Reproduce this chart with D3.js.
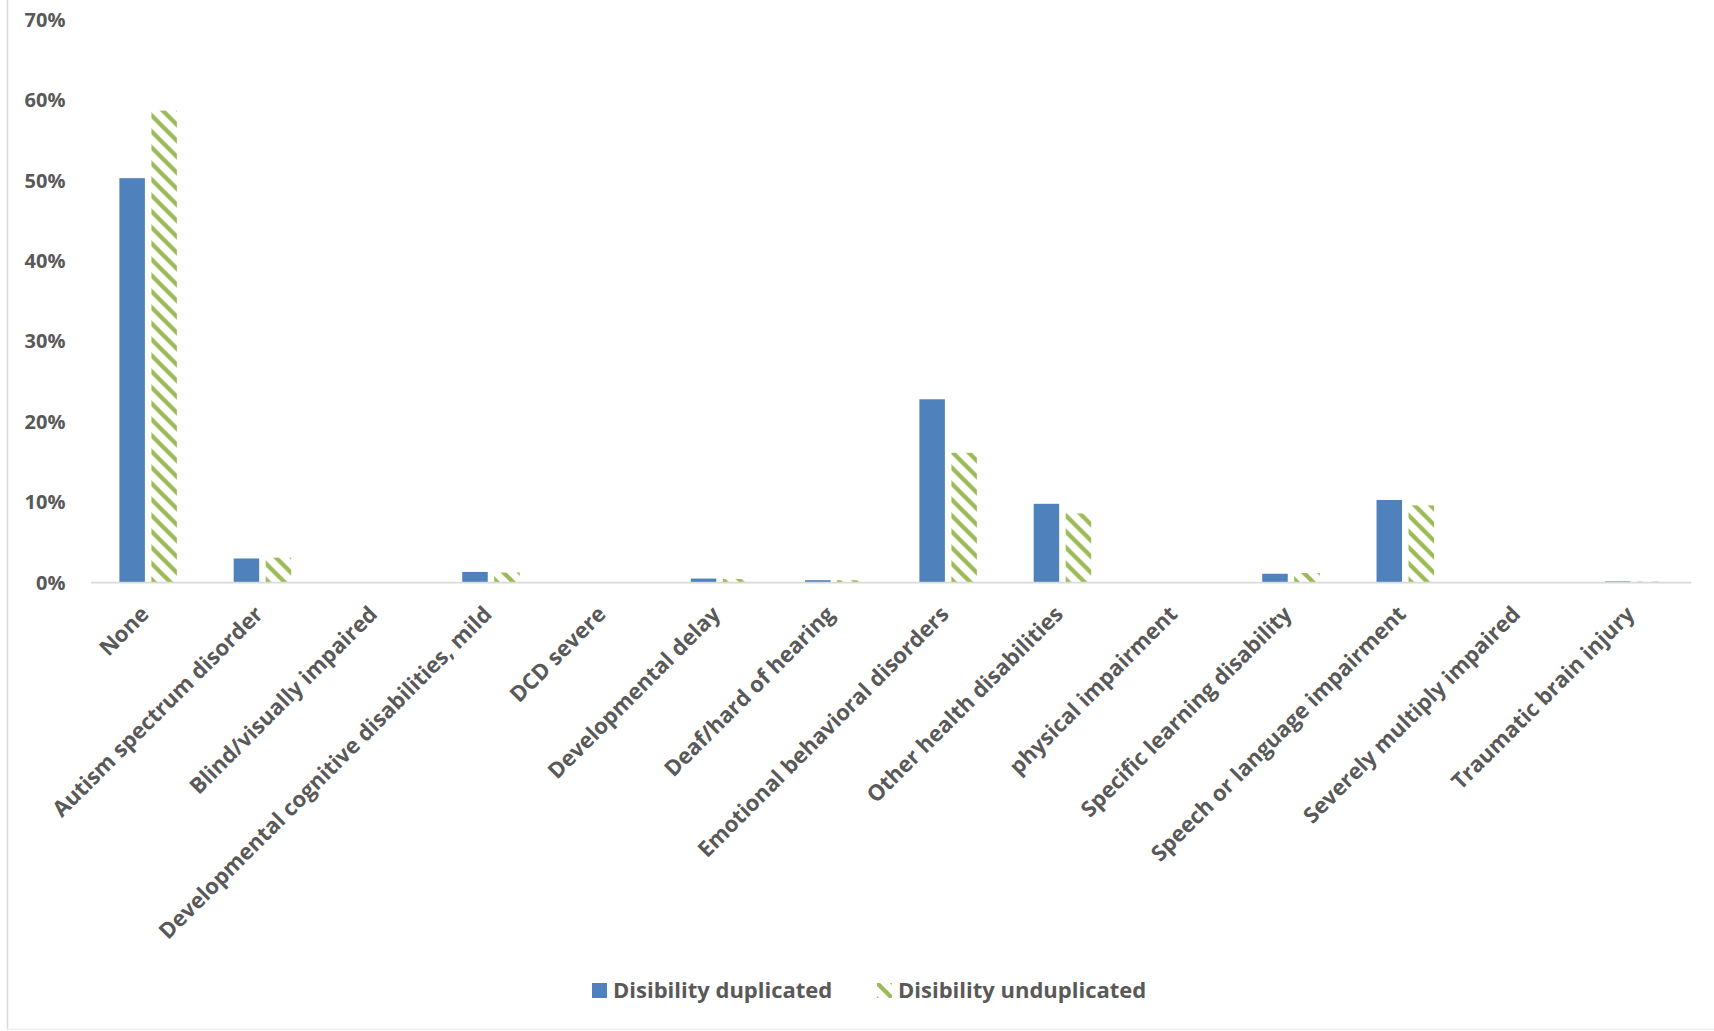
<!DOCTYPE html>
<html>
<head>
<meta charset="utf-8">
<script src="https://cdn.jsdelivr.net/npm/d3@7"></script>
<style>
  html, body { margin: 0; padding: 0; background: #ffffff; }
  svg { display: block; }
  text { font-family: "Open Sans", "Liberation Sans", sans-serif; font-weight: 700; fill: #595959; }
</style>
</head>
<body>
<svg id="chart" width="1714" height="1031"></svg>
<script>
const categories = [
  "None",
  "Autism spectrum disorder",
  "Blind/visually impaired",
  "Developmental cognitive disabilities, mild",
  "DCD severe",
  "Developmental delay",
  "Deaf/hard of hearing",
  "Emotional behavioral disorders",
  "Other health disabilities",
  "physical impairment",
  "Specific learning disability",
  "Speech or language impairment",
  "Severely multiply impaired",
  "Traumatic brain injury"
];
const seriesNames = ["Disibility duplicated", "Disibility unduplicated"];
const duplicated   = [0.503, 0.030, 0.000, 0.0133, 0.0005, 0.0050, 0.0030, 0.228, 0.098, 0.0003, 0.011, 0.1027, 0.000, 0.0015];
const unduplicated = [0.587, 0.031, 0.000, 0.0125, 0.0005, 0.0045, 0.0030, 0.1615, 0.086, 0.0003, 0.012, 0.096, 0.000, 0.0012];
const yTicks = [0, 0.1, 0.2, 0.3, 0.4, 0.5, 0.6, 0.7];

const svg = d3.select("#chart");
const W = 1714, H = 1031;
const plotLeft = 91, plotRight = 1691, baseY = 582.6, topY = 19.8;

// patterns
const defs = svg.append("defs");
function makePattern(id, ox, oy) {
  const p = defs.append("pattern")
    .attr("id", id)
    .attr("patternUnits", "userSpaceOnUse")
    .attr("x", ox).attr("y", oy)
    .attr("width", 16).attr("height", 16);
  p.append("rect").attr("width", 16).attr("height", 16).attr("fill", "#ffffff");
  p.append("path")
    .attr("d", "M-2,-2L18,18M-2,14L2,18M14,-2L18,2")
    .attr("stroke", "#9BBB59")
    .attr("stroke-width", 4.3)
    .attr("fill", "none");
}
makePattern("hatch", 0, 0);
makePattern("hatchLegend", 877, 983);

// chart frame lines
svg.append("line").attr("x1", 7.5).attr("x2", 7.5).attr("y1", 0).attr("y2", 1029.5)
  .attr("stroke", "#D9D9D9").attr("stroke-width", 1.5);
svg.append("line").attr("x1", 7.5).attr("x2", W).attr("y1", 1029.5).attr("y2", 1029.5)
  .attr("stroke", "#EFEFEF").attr("stroke-width", 1.5);

const x = d3.scaleBand().domain(categories).range([plotLeft, plotRight]).paddingInner(0).paddingOuter(0);
const x1 = d3.scaleBand().domain(seriesNames).range([-28.75, 28.75]).paddingInner(6.5 / 32).paddingOuter(0);
const y = d3.scaleLinear().domain([0, 0.7]).range([baseY, topY]);

// y axis
const yAxis = svg.append("g")
  .attr("transform", `translate(${plotLeft},0)`)
  .call(d3.axisLeft(y).tickValues(yTicks).tickSize(0).tickPadding(25.5).tickFormat(d3.format(".0%")));
yAxis.select(".domain").remove();
yAxis.selectAll("text")
  .style("font-family", "'Open Sans', sans-serif")
  .style("font-weight", 700)
  .style("font-size", "20px")
  .attr("fill", "#595959");

// bars
const data = categories.map((c, i) => ({ cat: c, vals: [duplicated[i], unduplicated[i]] }));
const groups = svg.append("g").selectAll("g").data(data).join("g")
  .attr("transform", d => `translate(${x(d.cat) + x.bandwidth() / 2},0)`);

groups.selectAll("rect").data(d => d.vals.map((v, j) => ({ v, s: seriesNames[j], j }))).join("rect")
  .attr("x", d => x1(d.s))
  .attr("width", x1.bandwidth())
  .attr("y", d => y(d.v))
  .attr("height", d => baseY - y(d.v))
  .attr("fill", d => d.j === 0 ? "#4F81BD" : "url(#hatch)");

// x axis baseline
svg.append("line")
  .attr("x1", plotLeft).attr("x2", plotRight)
  .attr("y1", baseY).attr("y2", baseY)
  .attr("stroke", "#D9D9D9").attr("stroke-width", 1.8);

// x axis labels
const xAxis = svg.append("g")
  .attr("transform", `translate(0,${baseY})`)
  .call(d3.axisBottom(x).tickSize(0).tickPadding(0));
xAxis.select(".domain").remove();
xAxis.selectAll("text")
  .attr("x", 0).attr("y", 0).attr("dy", 0)
  .attr("text-anchor", "end")
  .attr("transform", "translate(2,33) rotate(-45)")
  .style("font-family", "'Open Sans', sans-serif")
  .style("font-weight", 700)
  .style("font-size", "22px")
  .attr("fill", "#595959");

// legend
const legend = svg.append("g");
legend.append("rect").attr("x", 592).attr("y", 983).attr("width", 15).attr("height", 15).attr("fill", "#4F81BD");
legend.append("text").attr("x", 613).attr("y", 998).text(seriesNames[0])
  .style("font-size", "22px");
legend.append("rect").attr("x", 877).attr("y", 983).attr("width", 15).attr("height", 15).attr("fill", "url(#hatchLegend)");
legend.append("text").attr("x", 898).attr("y", 998).text(seriesNames[1])
  .style("font-size", "22px");
</script>
</body>
</html>
